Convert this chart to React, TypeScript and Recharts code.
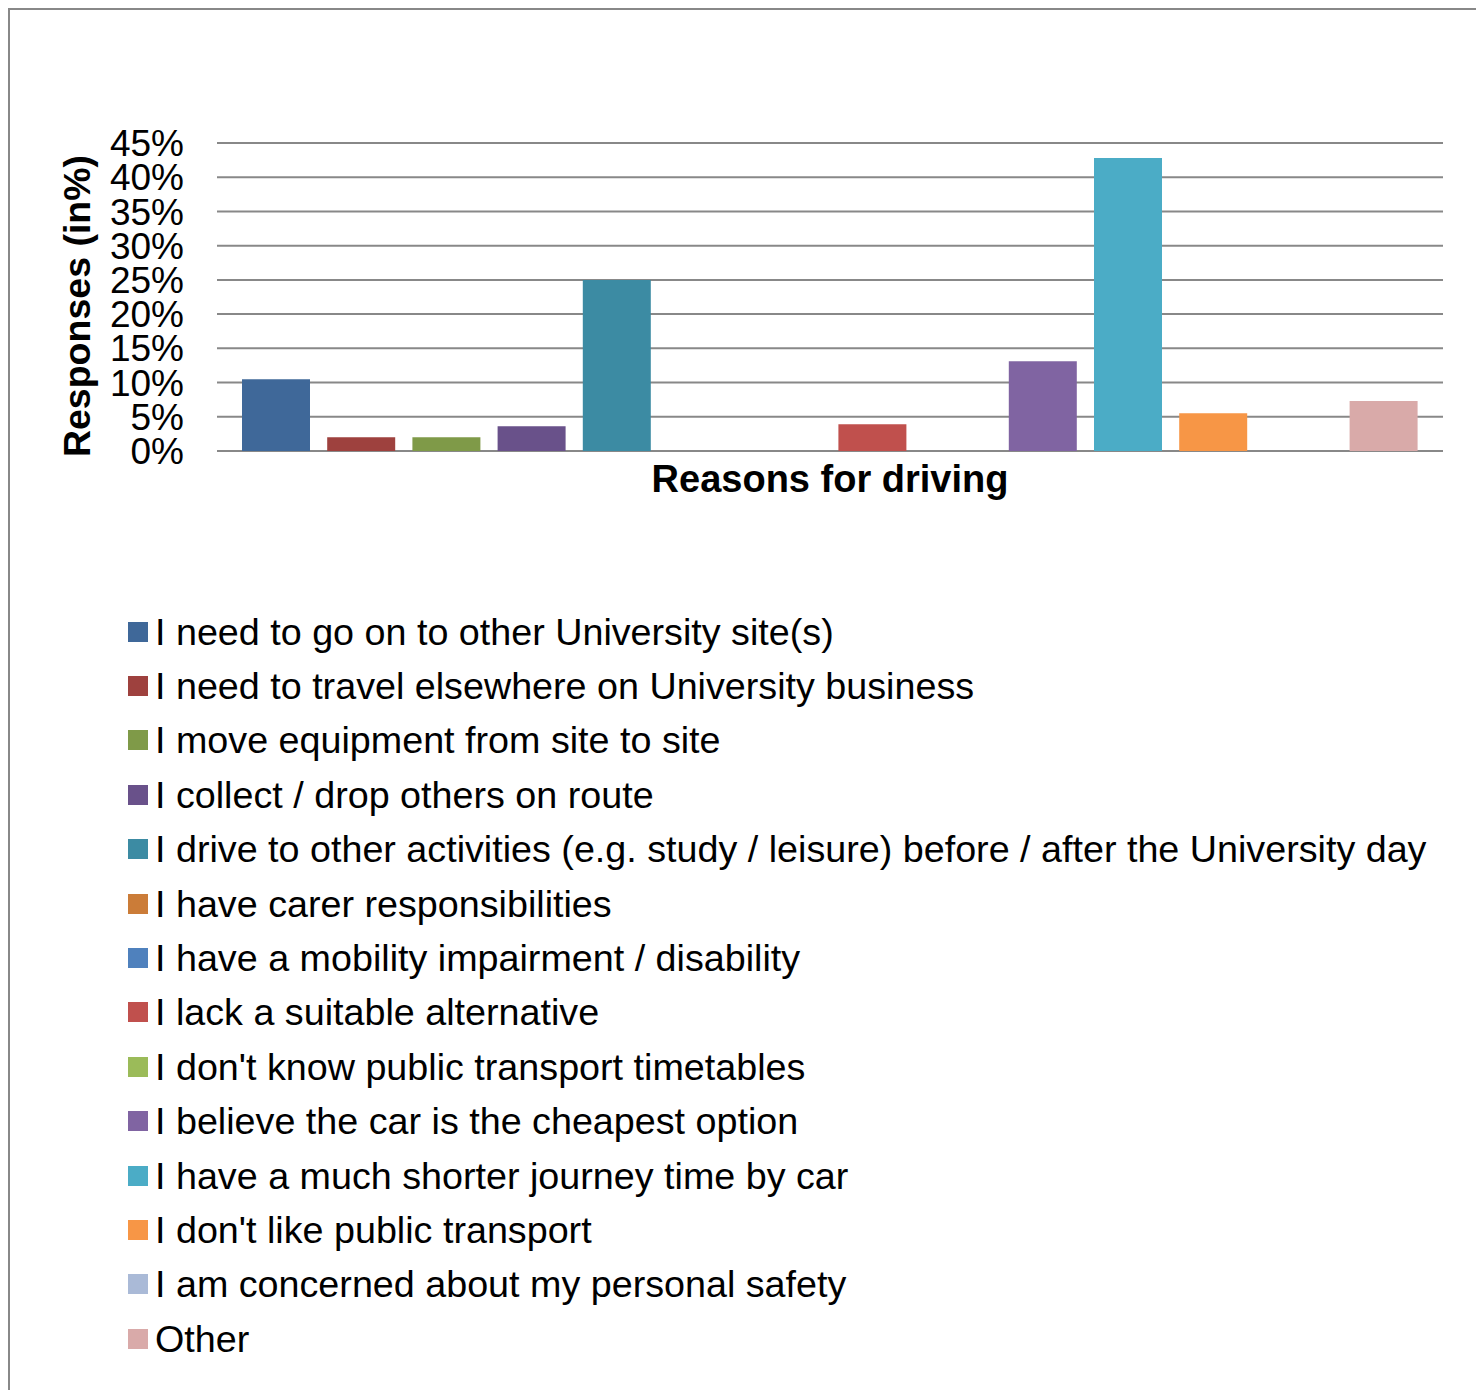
import React from 'react';
import { BarChart, Bar, XAxis, YAxis, CartesianGrid, Legend, Label } from 'recharts';

// Survey answers, one bar (and legend entry) per reason
const reasons = [
    'I need to go on to other University site(s)',
    'I need to travel elsewhere on University business',
    'I move equipment from site to site',
    'I collect / drop others on route',
    'I drive to other activities (e.g. study / leisure) before / after the University day',
    'I have carer responsibilities',
    'I have a mobility impairment / disability',
    'I lack a suitable alternative',
    "I don't know public transport timetables",
    'I believe the car is the cheapest option',
    'I have a much shorter journey time by car',
    "I don't like public transport",
    'I am concerned about my personal safety',
    'Other',
];

// Share of responses in %
const responses = [10.5, 2.0, 2.0, 3.6, 25.0, 0, 0, 3.9, 0, 13.1, 42.8, 5.5, 0, 7.3];

const colours = [
    '#3F6899', '#9E413E', '#7F9A48', '#69518A', '#3C8BA3', '#CB7C38', '#4F81BD',
    '#C0504D', '#9BBB59', '#8064A2', '#4BACC6', '#F79646', '#AABAD7', '#D9AAA9',
];

const yTicks = [0, 5, 10, 15, 20, 25, 30, 35, 40, 45];
const categoryLabel = 'Reasons for driving';
const yTitle = 'Responses (in%)';

const FONT = "'Liberation Sans', Arial, sans-serif";

// one category row, one key per reason
const data = [
    reasons.reduce<Record<string, string | number>>(
        (row, _, i) => ({ ...row, [`r${i}`]: responses[i] }),
        { name: categoryLabel }
    ),
];

const XTitle = (props: any) => {
    const { x, y, width } = props.viewBox;
    return (
        <text x={x + width / 2} y={y + 41} textAnchor="middle" fontSize={38} fontWeight="bold" fontFamily={FONT} fill="#000">
            {categoryLabel}
        </text>
    );
};

const YTitle = (props: any) => {
    const { y, height } = props.viewBox;
    const cx = 90;
    const cy = y + height / 2 + 9;
    return (
        <text x={cx} y={cy} transform={`rotate(-90, ${cx}, ${cy})`} textAnchor="middle" fontSize={37.5} fontWeight="bold" fontFamily={FONT} fill="#000">
            {yTitle}
        </text>
    );
};

// plain vertical list with black text, squares in the series colour, kept in series order
const LegendList = (props: any) => {
    const items = [...(props.payload || [])].sort(
        (a: any, b: any) => reasons.indexOf(a.value) - reasons.indexOf(b.value)
    );
    return (
        <div style={{ fontFamily: FONT, fontSize: 37.7, color: '#000' }}>
            {items.map((entry: any) => (
                <div key={entry.value} style={{ display: 'flex', alignItems: 'center', height: 54.4, whiteSpace: 'nowrap' }}>
                    <span style={{ width: 20, height: 20, background: entry.color, marginRight: 7, flex: 'none' }} />
                    <span style={{ lineHeight: '38px' }}>{entry.value}</span>
                </div>
            ))}
        </div>
    );
};

const App = () => {
    return (
        <div style={{ position: 'relative', margin: -8, width: 1484, height: 1398, overflow: 'hidden', background: '#fff', fontFamily: FONT }}>
            <div style={{ position: 'absolute', left: 8, top: 8, right: 0, bottom: 0, borderTop: '2px solid #888', borderLeft: '2px solid #888' }} />
            <div style={{ position: 'absolute', left: 0, top: 0 }}>
                <BarChart
                    width={1484}
                    height={1398}
                    data={data}
                    margin={{ top: 143, right: 41, bottom: 887, left: 0 }}
                    barGap={17.2}
                    barCategoryGap={25}
                >
                    <CartesianGrid vertical={false} stroke="#888" strokeWidth={2} />
                    <XAxis dataKey="name" height={60} tick={false} axisLine={false} tickLine={false}>
                        <Label content={XTitle} />
                    </XAxis>
                    <YAxis
                        width={217}
                        domain={[0, 45]}
                        ticks={yTicks}
                        interval={0}
                        tickFormatter={(v: number) => `${v}%`}
                        axisLine={false}
                        tickLine={false}
                        tickMargin={27}
                        tick={{ fill: '#000', fontSize: 37, fontFamily: FONT }}
                    >
                        <Label content={YTitle} />
                    </YAxis>
                    <Legend
                        layout="horizontal"
                        verticalAlign="middle"
                        align="center"
                        content={LegendList}
                        wrapperStyle={{ top: 604.5, left: 128, width: 1340 }}
                    />
                    {reasons.map((reason, i) => (
                        <Bar key={reason} dataKey={`r${i}`} name={reason} fill={colours[i]} isAnimationActive={false} />
                    ))}
                </BarChart>
            </div>
        </div>
    );
};

export default App;
